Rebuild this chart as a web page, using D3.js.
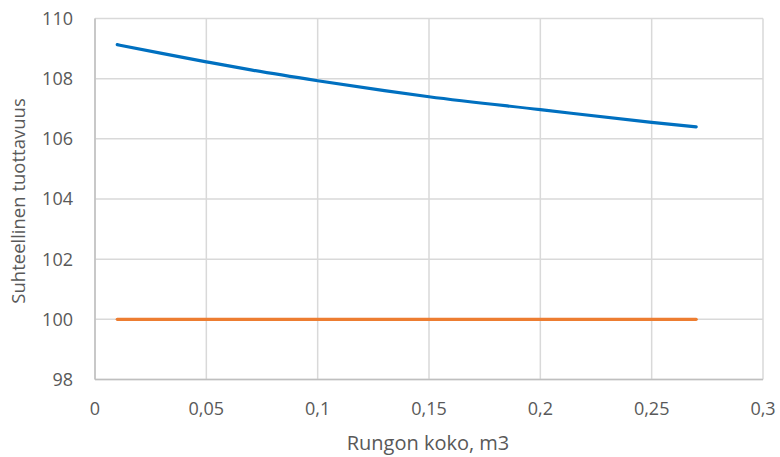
<!DOCTYPE html>
<html>
<head>
<meta charset="utf-8">
<script src="https://cdn.jsdelivr.net/npm/d3@7"></script>
<style>
  body { margin: 0; background: #fff; }
  text { font-family: "Open Sans", sans-serif; fill: #595959; }
</style>
</head>
<body>
<script>
var width = 780,
    height = 457;

// data
var xValues = [0.01, 0.03, 0.05, 0.07, 0.1, 0.13, 0.15, 0.2, 0.25, 0.27];
var blueValues = [109.13, 108.84, 108.56, 108.29, 107.93, 107.60, 107.40, 106.97, 106.55, 106.40];
var orangeValues = [100, 100, 100, 100, 100, 100, 100, 100, 100, 100];
var xTicks = [0, 0.05, 0.1, 0.15, 0.2, 0.25, 0.3];
var yTicks = [98, 100, 102, 104, 106, 108, 110];

var margin = { left: 95, right: 17, top: 18.5, bottom: 77.5 };

var svg = d3.select('body').append('svg').attr('width', width).attr('height', height);

var x = d3.scaleLinear().domain([0, 0.3]).range([margin.left, width - margin.right]);
var y = d3.scaleLinear().domain([98, 110]).range([height - margin.bottom, margin.top]);

var fmt = function (d) { return String(d).replace('.', ','); };

// gridlines
svg.append('g').selectAll('line').data(yTicks).enter().append('line')
    .attr('x1', x(0)).attr('x2', x(0.3))
    .attr('y1', function (d) { return y(d); }).attr('y2', function (d) { return y(d); })
    .style('stroke', '#d9d9d9').style('stroke-width', 1.5);
svg.append('g').selectAll('line').data(xTicks).enter().append('line')
    .attr('y1', y(98)).attr('y2', y(110))
    .attr('x1', function (d) { return x(d); }).attr('x2', function (d) { return x(d); })
    .style('stroke', '#d9d9d9').style('stroke-width', 1.5);

// axes lines
svg.append('line').attr('x1', x(0)).attr('x2', x(0.3)).attr('y1', y(98)).attr('y2', y(98))
    .style('stroke', '#bfbfbf').style('stroke-width', 1.5);
svg.append('line').attr('x1', x(0)).attr('x2', x(0)).attr('y1', y(98)).attr('y2', y(110))
    .style('stroke', '#bfbfbf').style('stroke-width', 1.5);

// tick labels
svg.append('g').selectAll('text').data(yTicks).enter().append('text')
    .attr('x', 73).attr('y', function (d) { return y(d); })
    .attr('dy', '0.36em').attr('text-anchor', 'end')
    .style('font-size', '18px')
    .text(function (d) { return d; });
svg.append('g').selectAll('text').data(xTicks).enter().append('text')
    .attr('x', function (d) { return x(d); }).attr('y', 415)
    .attr('text-anchor', 'middle')
    .style('font-size', '18px')
    .text(fmt);

// axis titles
svg.append('text').attr('x', x(0.15) - 1).attr('y', 450).attr('text-anchor', 'middle')
    .style('font-size', '20px').text('Rungon koko, m3');
svg.append('text').attr('transform', 'translate(25,' + (y(104) + 2) + ') rotate(-90)')
    .attr('text-anchor', 'middle').style('font-size', '18.5px')
    .text('Suhteellinen tuottavuus');

// lines
var line = d3.line().curve(d3.curveMonotoneX);
var series = [
    { values: orangeValues, color: '#ed7d31' },
    { values: blueValues, color: '#0070c0' }
];
series.forEach(function (s) {
    svg.append('path')
        .attr('d', line(xValues.map(function (d, i) { return [x(d), y(s.values[i])]; })))
        .style('fill', 'none').style('stroke', s.color)
        .style('stroke-width', 3.2).style('stroke-linecap', 'round');
});
</script>
</body>
</html>
